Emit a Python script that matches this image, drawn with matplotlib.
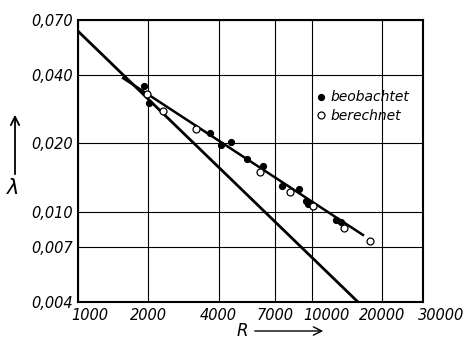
import matplotlib
matplotlib.use("Agg")
import matplotlib.pyplot as plt
from matplotlib.ticker import FixedLocator, NullLocator
import matplotlib.transforms as mtransforms

# data
R_obs = [1920, 2020, 3670, 4090, 4520, 5270, 6180, 7470, 8860, 9470, 9630, 12700, 13400]
lam_obs = [0.0358, 0.0302, 0.0222, 0.0196, 0.0203, 0.0170, 0.0159, 0.0130, 0.0126,
           0.0111, 0.0108, 0.0092, 0.0090]
R_calc = [1970, 2320, 3200, 6010, 8080, 10100, 13800, 17800]
lam_calc = [0.0331, 0.0277, 0.0231, 0.0150, 0.0122, 0.0106, 0.0085, 0.0074]

# fitted line through the measurements, and the laminar line
R_fit = [1560, 16600]
lam_fit = [0.0388, 0.0079]
R_lam = [1000, 15800]
lam_lam = [0.0625, 0.0040]

x_ticks = [1000, 2000, 4000, 7000, 10000, 20000, 30000]
y_ticks = [0.004, 0.007, 0.010, 0.020, 0.040, 0.070]
y_labels = ["0,004", "0,007", "0,010", "0,020", "0,040", "0,070"]

font = dict(family="DejaVu Sans", style="italic")

fig = plt.figure(figsize=(4.66, 3.39), dpi=100)
ax = fig.add_axes([78 / 466, 1 - 302 / 339, 345 / 466, 282 / 339])
ax.set_xscale("log")
ax.set_yscale("log")
ax.set_xlim(1000, 30000)
ax.set_ylim(0.004, 0.07)

ax.xaxis.set_major_locator(FixedLocator(x_ticks))
ax.yaxis.set_major_locator(FixedLocator(y_ticks))
ax.xaxis.set_minor_locator(NullLocator())
ax.yaxis.set_minor_locator(NullLocator())
ax.set_xticklabels([str(v) for v in x_ticks], fontsize=10.5, **font)
ax.set_yticklabels(y_labels, fontsize=10.5, **font)
ax.tick_params(length=0, pad=4)
ax.grid(True, color="black", linewidth=0.8)
ax.set_axisbelow(True)
for sp in ax.spines.values():
    sp.set_linewidth(1.5)

# nudge some labels like in the original
shifts = {"1000": 0.12, "10000": 0.15, "30000": 0.18}
for lbl in ax.get_xticklabels():
    if lbl.get_text() in shifts:
        lbl.set_transform(lbl.get_transform() +
                          mtransforms.ScaledTranslation(shifts[lbl.get_text()], 0,
                                                        fig.dpi_scale_trans))

ax.plot(R_lam, lam_lam, color="black", linewidth=2)
ax.plot(R_fit, lam_fit, color="black", linewidth=1.8)
ax.plot(R_obs, lam_obs, "o", color="black", markersize=4.2, linestyle="none",
        label="beobachtet")
ax.plot(R_calc, lam_calc, "o", markerfacecolor="white", markeredgecolor="black",
        markeredgewidth=0.9, markersize=5, linestyle="none", label="berechnet")

leg = ax.legend(loc="upper left", bbox_to_anchor=(0.675, 0.77), frameon=False,
                handlelength=0.6, handletextpad=0.4, labelspacing=0.3,
                borderaxespad=0, prop=dict(size=10, **font))

# axis labels with arrows
fig.text(13 / 466, 1 - 188 / 339, "λ", fontsize=15, ha="center", va="center", **font)
fig.patches.append(matplotlib.patches.FancyArrowPatch(
    (15 / 466, 1 - 177 / 339), (15 / 466, 1 - 112 / 339), transform=fig.transFigure,
    arrowstyle="->,head_length=6,head_width=3", linewidth=1.3, color="black"))
fig.text(242 / 466, 1 - 331 / 339, "R", fontsize=12, ha="center", va="center", **font)
fig.patches.append(matplotlib.patches.FancyArrowPatch(
    (252 / 466, 1 - 331 / 339), (326 / 466, 1 - 331 / 339), transform=fig.transFigure,
    arrowstyle="->,head_length=6,head_width=3", linewidth=1.0, color="black"))

fig.savefig("out.png", dpi=100)
